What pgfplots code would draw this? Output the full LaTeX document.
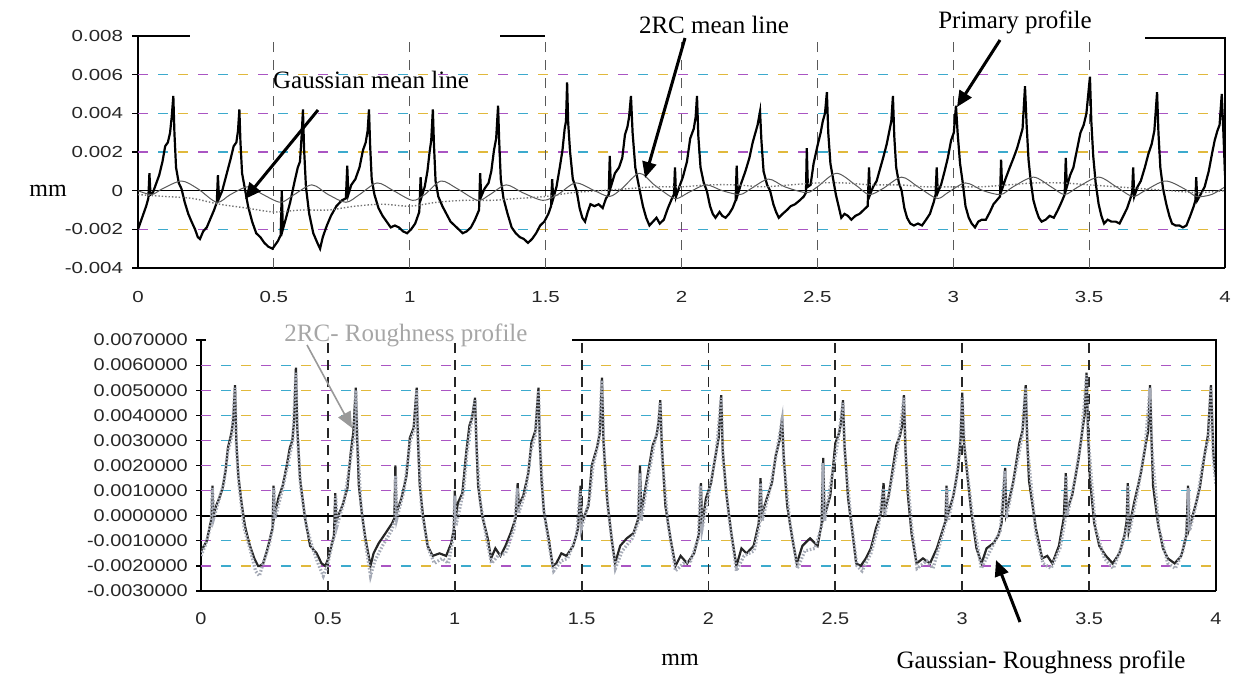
\documentclass[border=0pt]{standalone}
\usepackage{fontspec}
\setmainfont{Liberation Serif}
\newfontfamily\arialfont{Liberation Sans}
\usepackage{pgfplots}
\pgfplotsset{compat=1.18}
\usetikzlibrary{arrows.meta}

\definecolor{gridP}{RGB}{170,85,195}
\definecolor{gridC}{RGB}{60,170,205}
\definecolor{gridY}{RGB}{225,185,60}
\definecolor{rcgray}{RGB}{165,170,182}

\tikzset{
  hgridP/.style={gridP, line width=0.6pt, dash pattern=on 5pt off 25pt},
  hgridC/.style={gridC, line width=0.6pt, dash pattern=on 5pt off 25pt, dash phase=20pt},
  hgridY/.style={gridY, line width=0.6pt, dash pattern=on 5pt off 25pt, dash phase=10pt},
  callout/.style={line width=1.5pt, -{Triangle[length=8pt,width=7pt]}},
}

% coloured dashed horizontal grid lines, as in the scanned original
\newcommand{\hgrid}[1]{\pgfplotsinvokeforeach{#1}{
  \draw[hgridP] (axis cs:0,##1) -- (axis cs:4,##1);
  \draw[hgridC] (axis cs:0,##1) -- (axis cs:4,##1);
  \draw[hgridY] (axis cs:0,##1) -- (axis cs:4,##1);}}

\begin{document}
\begin{tikzpicture}

%% ---------------- primary profile with mean lines ----------------
\begin{axis}[
  at={(69pt,-134pt)}, anchor=south west,
  scale only axis, width=543.5pt, height=116pt,
  xmin=0, xmax=4, ymin=-0.004, ymax=0.008,
  axis x line*=bottom, axis y line*=left,
  axis line style={line width=0.8pt, black},
  xtick={0,0.5,1,1.5,2,2.5,3,3.5,4},
  xticklabels={0,0.5,1,1.5,2,2.5,3,3.5,4},
  ytick={-0.004,-0.002,0,0.002,0.004,0.006,0.008},
  yticklabels={-0.004,-0.002,0,0.002,0.004,0.006,0.008},
  scaled ticks=false,
  tick align=outside, major tick length=3pt,
  x tick style={draw=none},
  y tick style={black, line width=0.6pt},
  tick label style={font=\arialfont\fontsize{8}{9}\selectfont, black!85, xscale=1.28},
  xticklabel style={yshift=-5pt},
]
\hgrid{0.006,0.004,0.002,-0.002}
\pgfplotsinvokeforeach{0.5,1,1.5,2,2.5,3,3.5}{
  \draw[gray!70!black, line width=0.6pt, dash pattern=on 5pt off 4pt] (axis cs:#1,-0.004) -- (axis cs:#1,0.008);}
\draw[black, line width=0.8pt] (axis cs:0,0) -- (axis cs:4,0);

% primary profile
\addplot[black, line width=1.1pt] coordinates {
(0.000,-0.0020) (0.010,-0.0016) (0.020,-0.0012) (0.030,-0.0008) (0.038,-0.0004) (0.042,0.0009) (0.046,-0.0002)
(0.055,-0.0001) (0.065,0.0003) (0.078,0.0008) (0.090,0.0015) (0.100,0.0023) (0.110,0.0025) (0.118,0.0030)
(0.124,0.0038) (0.130,0.0049)
(0.134,0.0030) (0.140,0.0012) (0.150,0.0004) (0.160,0.0001) (0.172,-0.0006) (0.185,-0.0012) (0.197,-0.0016)
(0.210,-0.0020) (0.220,-0.0024) (0.228,-0.0025) (0.240,-0.0021) (0.253,-0.0019) (0.265,-0.0015) (0.280,-0.0010)
(0.290,-0.0006) (0.294,0.0008) (0.298,-0.0004) (0.310,0.0000) (0.325,0.0008) (0.340,0.0016) (0.352,0.0023)
(0.362,0.0025) (0.368,0.0031) (0.373,0.0042)
(0.377,0.0025) (0.383,0.0009) (0.392,0.0002) (0.405,-0.0008) (0.420,-0.0016) (0.435,-0.0022) (0.450,-0.0024)
(0.465,-0.0027) (0.480,-0.0029) (0.495,-0.0030) (0.505,-0.0028) (0.515,-0.0026) (0.525,-0.0023) (0.529,0.0000)
(0.533,-0.0020) (0.545,-0.0014) (0.560,-0.0006) (0.575,0.0004) (0.588,0.0012) (0.596,0.0015) (0.602,0.0028)
(0.607,0.0042)
(0.611,0.0022) (0.618,0.0002) (0.630,-0.0012) (0.645,-0.0022) (0.660,-0.0027) (0.670,-0.0030) (0.680,-0.0024)
(0.695,-0.0018) (0.710,-0.0013) (0.730,-0.0008) (0.750,-0.0005) (0.765,-0.0004) (0.770,0.0013) (0.774,-0.0002)
(0.785,0.0003) (0.800,0.0006) (0.815,0.0012) (0.828,0.0021) (0.838,0.0025) (0.845,0.0031) (0.850,0.0042)
(0.854,0.0024) (0.860,0.0006) (0.870,-0.0002) (0.885,-0.0009) (0.900,-0.0013) (0.915,-0.0016) (0.930,-0.0019)
(0.945,-0.0018) (0.960,-0.0019) (0.975,-0.0021) (0.990,-0.0022) (1.005,-0.0020) (1.020,-0.0017) (1.035,-0.0011)
(1.040,0.0007) (1.044,-0.0003) (1.055,0.0002) (1.065,0.0010) (1.073,0.0020) (1.079,0.0026) (1.085,0.0042)
(1.089,0.0024) (1.095,0.0005) (1.105,-0.0003) (1.120,-0.0008) (1.135,-0.0012) (1.150,-0.0016) (1.165,-0.0018)
(1.180,-0.0020) (1.195,-0.0022) (1.210,-0.0021) (1.225,-0.0019) (1.240,-0.0015) (1.255,-0.0010) (1.259,0.0009)
(1.263,-0.0003) (1.275,0.0001) (1.290,0.0004) (1.300,0.0010) (1.310,0.0021) (1.318,0.0027) (1.325,0.0044)
(1.329,0.0026) (1.335,0.0006) (1.345,-0.0004) (1.360,-0.0012) (1.375,-0.0019) (1.390,-0.0022) (1.405,-0.0024)
(1.420,-0.0025) (1.435,-0.0027) (1.450,-0.0025) (1.465,-0.0022) (1.480,-0.0018) (1.495,-0.0016) (1.510,-0.0012)
(1.520,-0.0008) (1.524,0.0006) (1.528,-0.0004) (1.540,0.0002) (1.552,0.0012) (1.562,0.0021) (1.570,0.0032)
(1.575,0.0036) (1.579,0.0056)
(1.583,0.0035) (1.590,0.0020) (1.600,0.0006) (1.614,0.0000) (1.625,-0.0009) (1.635,-0.0014) (1.645,-0.0016)
(1.655,-0.0011) (1.665,-0.0007) (1.680,-0.0008) (1.695,-0.0007) (1.710,-0.0009) (1.722,-0.0004) (1.732,-0.0002)
(1.736,0.0018) (1.740,0.0002) (1.755,0.0009) (1.770,0.0012) (1.782,0.0017) (1.792,0.0029) (1.801,0.0033)
(1.807,0.0038) (1.814,0.0049)
(1.820,0.0030) (1.830,0.0012) (1.845,0.0001) (1.858,-0.0008) (1.870,-0.0014) (1.882,-0.0018) (1.895,-0.0016)
(1.908,-0.0014) (1.920,-0.0017) (1.935,-0.0015) (1.950,-0.0009) (1.965,-0.0004) (1.972,-0.0002) (1.976,0.0012)
(1.980,-0.0003) (1.992,0.0002) (2.005,0.0007) (2.020,0.0015) (2.032,0.0027) (2.045,0.0032) (2.052,0.0038)
(2.057,0.0049)
(2.062,0.0028) (2.070,0.0012) (2.082,0.0004) (2.093,0.0000) (2.105,-0.0008) (2.115,-0.0012) (2.125,-0.0014)
(2.140,-0.0011) (2.150,-0.0013) (2.162,-0.0014) (2.175,-0.0012) (2.188,-0.0009) (2.199,-0.0005) (2.203,0.0013)
(2.207,-0.0002) (2.220,0.0004) (2.235,0.0010) (2.250,0.0017) (2.262,0.0025) (2.272,0.0030) (2.280,0.0034)
(2.289,0.0041)
(2.294,0.0026) (2.302,0.0010) (2.315,0.0003) (2.326,0.0000) (2.338,-0.0007) (2.348,-0.0011) (2.358,-0.0014)
(2.372,-0.0012) (2.388,-0.0010) (2.402,-0.0008) (2.418,-0.0007) (2.435,-0.0005) (2.450,-0.0003) (2.458,-0.0001)
(2.461,0.0022) (2.465,0.0002) (2.475,0.0003) (2.486,0.0014) (2.500,0.0023) (2.512,0.0030) (2.520,0.0036)
(2.528,0.0040) (2.535,0.0051)
(2.540,0.0030) (2.548,0.0014) (2.558,0.0006) (2.568,-0.0002) (2.578,-0.0008) (2.588,-0.0014) (2.600,-0.0012)
(2.612,-0.0013) (2.625,-0.0015) (2.640,-0.0013) (2.655,-0.0012) (2.670,-0.0010) (2.685,-0.0008) (2.690,0.0012)
(2.694,-0.0002) (2.705,0.0002) (2.718,0.0005) (2.730,0.0011) (2.742,0.0017) (2.755,0.0024) (2.765,0.0031)
(2.772,0.0036) (2.778,0.0049)
(2.783,0.0028) (2.790,0.0012) (2.800,0.0004) (2.810,0.0000) (2.820,-0.0009) (2.830,-0.0014) (2.842,-0.0017)
(2.855,-0.0018) (2.870,-0.0017) (2.885,-0.0018) (2.900,-0.0015) (2.914,-0.0012) (2.928,-0.0006) (2.935,-0.0002)
(2.939,0.0012) (2.943,-0.0001) (2.955,0.0003) (2.968,0.0010) (2.980,0.0017) (2.992,0.0026) (3.002,0.0030)
(3.010,0.0044)
(3.016,0.0030) (3.025,0.0014) (3.035,0.0004) (3.045,-0.0008) (3.057,-0.0014) (3.068,-0.0017) (3.080,-0.0019)
(3.092,-0.0016) (3.105,-0.0015) (3.120,-0.0015) (3.135,-0.0011) (3.148,-0.0007) (3.160,-0.0005) (3.172,-0.0003)
(3.176,0.0016) (3.180,0.0001) (3.192,0.0006) (3.208,0.0012) (3.222,0.0017) (3.235,0.0022) (3.245,0.0027)
(3.255,0.0032) (3.264,0.0054)
(3.270,0.0034) (3.277,0.0016) (3.285,0.0005) (3.295,-0.0005) (3.305,-0.0010) (3.315,-0.0014) (3.325,-0.0016)
(3.340,-0.0015) (3.355,-0.0013) (3.370,-0.0014) (3.385,-0.0010) (3.398,-0.0006) (3.410,-0.0002) (3.414,0.0017)
(3.418,0.0002) (3.430,0.0008) (3.442,0.0012) (3.455,0.0021) (3.468,0.0030) (3.480,0.0034) (3.490,0.0040)
(3.503,0.0059)
(3.508,0.0036) (3.515,0.0018) (3.524,0.0004) (3.535,-0.0007) (3.545,-0.0013) (3.555,-0.0017) (3.568,-0.0015)
(3.582,-0.0016) (3.598,-0.0016) (3.612,-0.0017) (3.626,-0.0013) (3.640,-0.0009) (3.652,-0.0004) (3.658,-0.0001)
(3.662,0.0012) (3.666,-0.0003) (3.678,0.0002) (3.690,0.0005) (3.705,0.0012) (3.718,0.0019) (3.730,0.0024)
(3.740,0.0031) (3.750,0.0051)
(3.755,0.0030) (3.762,0.0012) (3.772,0.0001) (3.784,-0.0007) (3.795,-0.0013) (3.805,-0.0017) (3.818,-0.0018)
(3.832,-0.0018) (3.845,-0.0019) (3.858,-0.0018) (3.872,-0.0013) (3.885,-0.0008) (3.891,-0.0005) (3.894,0.0007)
(3.898,-0.0005) (3.910,-0.0002) (3.925,0.0002) (3.940,0.0010) (3.952,0.0019) (3.962,0.0026) (3.972,0.0031)
(3.980,0.0034) (3.988,0.0050) (3.994,0.0030) (4.000,0.0008)
};

% 2RC mean line
\addplot[black!65, line width=0.5pt, smooth] coordinates {
(0.000,0.0000) (0.050,-0.0002) (0.090,0.0001) (0.160,0.0005) (0.220,0.0001) (0.290,-0.0006) (0.340,-0.0002)
(0.405,0.0002) (0.460,-0.0002) (0.525,-0.0006) (0.575,-0.0002) (0.640,0.0003) (0.700,-0.0002) (0.765,-0.0006)
(0.815,-0.0002) (0.880,0.0004) (0.940,0.0000) (1.010,-0.0005) (1.055,-0.0002) (1.115,0.0005) (1.175,0.0001)
(1.250,-0.0005) (1.295,-0.0002) (1.355,0.0003) (1.415,-0.0001) (1.490,-0.0005) (1.545,-0.0002) (1.610,0.0004)
(1.680,0.0000) (1.735,-0.0003) (1.780,0.0001) (1.845,0.0009) (1.900,0.0003) (1.975,-0.0004) (2.025,-0.0001)
(2.090,0.0003) (2.150,0.0000) (2.215,-0.0002) (2.255,0.0001) (2.320,0.0006) (2.380,0.0002) (2.460,-0.0001)
(2.500,0.0002) (2.570,0.0009) (2.640,0.0003) (2.690,-0.0002) (2.740,0.0001) (2.810,0.0007) (2.870,0.0002)
(2.940,-0.0004) (2.980,-0.0001) (3.045,0.0004) (3.110,0.0000) (3.175,-0.0002) (3.220,0.0002) (3.295,0.0007)
(3.360,0.0002) (3.410,-0.0002) (3.460,0.0002) (3.535,0.0007) (3.600,0.0002) (3.660,-0.0003) (3.705,0.0000)
(3.780,0.0005) (3.850,0.0001) (3.895,-0.0003) (3.950,-0.0002) (4.000,0.0002)
};

% Gaussian mean line
\addplot[black!55, line width=0.7pt, densely dotted, smooth] coordinates {
(0.0,-0.0002) (0.1,-0.0003) (0.2,-0.0004) (0.3,-0.0007) (0.4,-0.0009) (0.5,-0.0011) (0.6,-0.0010)
(0.7,-0.0010) (0.8,-0.0008) (0.9,-0.0007) (1.0,-0.0008) (1.1,-0.0006) (1.2,-0.0005) (1.3,-0.0005)
(1.4,-0.0004) (1.5,-0.0003) (1.6,-0.0001) (1.7,0.0000) (1.8,0.0001) (1.9,0.0002) (2.0,0.0002)
(2.1,0.0003) (2.2,0.0003) (2.3,0.0002) (2.4,0.0003) (2.5,0.0004) (2.6,0.0004) (2.7,0.0003)
(2.8,0.0003) (2.9,0.0002) (3.0,0.0002) (3.1,0.0002) (3.2,0.0003) (3.3,0.0004) (3.4,0.0004)
(3.5,0.0003) (3.6,0.0002) (3.7,0.0001) (3.8,0.0000) (3.9,-0.0001) (4.0,0.0000)
};
\end{axis}

%% ---------------- roughness profiles ----------------
\begin{axis}[
  at={(100.5pt,-295.5pt)}, anchor=south west,
  scale only axis, width=507.5pt, height=125.5pt,
  xmin=0, xmax=4, ymin=-0.003, ymax=0.007,
  axis x line*=bottom, axis y line*=left,
  axis line style={line width=0.8pt, black},
  xtick={0,0.5,1,1.5,2,2.5,3,3.5,4},
  xticklabels={0,0.5,1,1.5,2,2.5,3,3.5,4},
  ytick={-0.003,-0.002,-0.001,0,0.001,0.002,0.003,0.004,0.005,0.006,0.007},
  yticklabels={-0.0030000,-0.0020000,-0.0010000,0.0000000,0.0010000,0.0020000,0.0030000,0.0040000,0.0050000,0.0060000,0.0070000},
  scaled ticks=false,
  tick align=center, major tick length=5pt,
  x tick style={draw=none},
  y tick style={black, line width=0.6pt},
  tick label style={font=\arialfont\fontsize{8.5}{9}\selectfont, black!85, xscale=1.17},
  xticklabel style={yshift=-5pt},
]
\hgrid{0.006,0.005,0.004,0.003,0.002,0.001,-0.001,-0.002}
\pgfplotsinvokeforeach{0.5,1,1.5,2,2.5,3,3.5}{
  \draw[black!85, line width=0.9pt, dash pattern=on 5pt off 3.5pt] (axis cs:#1,-0.003) -- (axis cs:#1,0.007);}
\draw[black, line width=0.9pt] (axis cs:0,0) -- (axis cs:4,0);

% Gaussian roughness profile
\addplot[black!85, line width=1.1pt] coordinates {
(0.000,-0.0014) (0.012,-0.0012) (0.023,-0.0010) (0.035,-0.0004) (0.042,-0.0001) (0.045,0.0012) (0.049,0.0000)
(0.060,0.0004) (0.072,0.0007) (0.085,0.0011) (0.097,0.0018) (0.106,0.0027) (0.120,0.0033) (0.127,0.0038)
(0.134,0.0052)
(0.139,0.0030) (0.147,0.0016) (0.160,0.0005) (0.173,-0.0004) (0.185,-0.0009) (0.193,-0.0012) (0.210,-0.0017)
(0.225,-0.0020) (0.232,-0.0020) (0.245,-0.0019) (0.260,-0.0014) (0.272,-0.0009) (0.282,-0.0005) (0.286,0.0012)
(0.290,0.0000) (0.305,0.0007) (0.322,0.0012) (0.338,0.0020) (0.350,0.0027) (0.360,0.0030) (0.367,0.0038)
(0.374,0.0059)
(0.379,0.0036) (0.390,0.0015) (0.410,-0.0001) (0.430,-0.0012) (0.456,-0.0015) (0.475,-0.0019) (0.490,-0.0020)
(0.502,-0.0017) (0.516,-0.0011) (0.524,-0.0008) (0.529,0.0009) (0.533,-0.0002) (0.557,0.0004) (0.577,0.0011)
(0.590,0.0025) (0.600,0.0033) (0.610,0.0051)
(0.615,0.0032) (0.622,0.0012) (0.635,0.0000) (0.648,-0.0009) (0.668,-0.0020) (0.680,-0.0015) (0.700,-0.0011)
(0.727,-0.0007) (0.753,-0.0003) (0.762,-0.0001) (0.766,0.0020) (0.770,0.0001) (0.790,0.0007) (0.810,0.0016)
(0.823,0.0031) (0.838,0.0035) (0.850,0.0051)
(0.855,0.0030) (0.862,0.0012) (0.875,0.0000) (0.893,-0.0012) (0.913,-0.0016) (0.940,-0.0015) (0.966,-0.0016)
(0.986,-0.0011) (0.997,-0.0005) (1.000,0.0010) (1.004,-0.0001) (1.012,0.0005) (1.030,0.0009) (1.045,0.0025)
(1.058,0.0036) (1.068,0.0039) (1.080,0.0047)
(1.085,0.0030) (1.092,0.0012) (1.108,0.0000) (1.130,-0.0009) (1.143,-0.0017) (1.160,-0.0013) (1.180,-0.0016)
(1.200,-0.0012) (1.220,-0.0007) (1.240,-0.0001) (1.248,0.0013) (1.252,0.0004) (1.270,0.0008) (1.290,0.0017)
(1.302,0.0029) (1.318,0.0034) (1.330,0.0051)
(1.335,0.0030) (1.342,0.0014) (1.352,0.0001) (1.370,-0.0009) (1.386,-0.0020) (1.400,-0.0019) (1.420,-0.0015)
(1.440,-0.0016) (1.467,-0.0012) (1.486,-0.0005) (1.496,0.0012) (1.500,-0.0003) (1.527,0.0004) (1.540,0.0020)
(1.560,0.0027) (1.572,0.0033) (1.580,0.0055)
(1.586,0.0030) (1.600,0.0007) (1.618,-0.0009) (1.632,-0.0019) (1.652,-0.0012) (1.678,-0.0009) (1.704,-0.0007)
(1.724,-0.0001) (1.730,0.0020) (1.735,0.0001) (1.753,0.0012) (1.780,0.0028) (1.795,0.0032) (1.803,0.0037)
(1.810,0.0046)
(1.816,0.0028) (1.830,0.0004) (1.850,-0.0009) (1.870,-0.0020) (1.890,-0.0016) (1.916,-0.0019) (1.943,-0.0015)
(1.963,-0.0007) (1.970,0.0013) (1.975,-0.0004) (1.990,0.0007) (2.010,0.0013) (2.026,0.0023) (2.040,0.0031)
(2.050,0.0048)
(2.056,0.0026) (2.070,0.0009) (2.090,-0.0007) (2.110,-0.0020) (2.130,-0.0013) (2.150,-0.0015) (2.178,-0.0012)
(2.198,-0.0003) (2.205,0.0015) (2.210,0.0000) (2.230,0.0007) (2.250,0.0013) (2.265,0.0024) (2.280,0.0030)
(2.290,0.0039)
(2.296,0.0024) (2.310,0.0004) (2.330,-0.0009) (2.348,-0.0019) (2.370,-0.0012) (2.400,-0.0009) (2.430,-0.0012)
(2.446,-0.0003) (2.452,0.0023) (2.457,0.0000) (2.480,0.0008) (2.500,0.0029) (2.515,0.0033) (2.522,0.0037)
(2.530,0.0046)
(2.536,0.0028) (2.550,0.0007) (2.570,-0.0009) (2.582,-0.0019) (2.600,-0.0020) (2.620,-0.0017) (2.640,-0.0013)
(2.660,-0.0005) (2.680,0.0001) (2.690,0.0013) (2.694,0.0002) (2.710,0.0008) (2.740,0.0028) (2.755,0.0032)
(2.763,0.0036) (2.770,0.0048)
(2.776,0.0027) (2.785,0.0009) (2.800,-0.0007) (2.820,-0.0019) (2.845,-0.0017) (2.873,-0.0019) (2.900,-0.0013)
(2.925,-0.0005) (2.934,-0.0002) (2.938,0.0012) (2.942,0.0000) (2.965,0.0008) (2.984,0.0019) (2.993,0.0030)
(3.000,0.0049)
(3.006,0.0030) (3.017,0.0019) (3.036,0.0001) (3.056,-0.0013) (3.076,-0.0019) (3.096,-0.0013) (3.122,-0.0011)
(3.142,-0.0008) (3.155,-0.0003) (3.169,0.0019) (3.173,0.0001) (3.200,0.0013) (3.225,0.0029) (3.238,0.0034)
(3.250,0.0052)
(3.256,0.0030) (3.263,0.0014) (3.290,-0.0005) (3.315,-0.0017) (3.335,-0.0016) (3.355,-0.0019) (3.381,-0.0012)
(3.400,-0.0001) (3.408,0.0017) (3.412,0.0002) (3.433,0.0008) (3.459,0.0023) (3.472,0.0033) (3.482,0.0040)
(3.490,0.0057)
(3.496,0.0032) (3.503,0.0015) (3.520,-0.0003) (3.540,-0.0012) (3.566,-0.0016) (3.593,-0.0019) (3.619,-0.0015)
(3.639,-0.0008) (3.648,-0.0002) (3.652,0.0013) (3.656,-0.0006) (3.677,0.0005) (3.704,0.0017) (3.724,0.0029)
(3.733,0.0034) (3.740,0.0052)
(3.746,0.0030) (3.752,0.0012) (3.771,-0.0003) (3.791,-0.0013) (3.810,-0.0017) (3.837,-0.0019) (3.863,-0.0016)
(3.883,-0.0008) (3.890,0.0012) (3.894,-0.0005) (3.916,0.0003) (3.936,0.0011) (3.956,0.0025) (3.968,0.0032)
(3.980,0.0052) (3.990,0.0024) (4.000,0.0015)
};

% 2RC roughness profile
\addplot[rcgray, line width=1.6pt, dash pattern=on 0.8pt off 0.9pt] coordinates {
(0.000,-0.0016) (0.020,-0.0011) (0.040,-0.0003) (0.045,0.0011) (0.050,-0.0001) (0.070,0.0006) (0.090,0.0013)
(0.105,0.0025) (0.122,0.0032) (0.134,0.0051) (0.140,0.0026) (0.150,0.0012) (0.170,-0.0005) (0.195,-0.0014)
(0.215,-0.0022) (0.230,-0.0024) (0.248,-0.0018) (0.270,-0.0011) (0.284,-0.0004) (0.287,0.0011) (0.292,-0.0001)
(0.320,0.0010) (0.345,0.0022) (0.362,0.0030) (0.374,0.0057) (0.380,0.0032) (0.392,0.0012) (0.415,-0.0004)
(0.440,-0.0013) (0.465,-0.0020) (0.482,-0.0024) (0.498,-0.0020) (0.515,-0.0012) (0.528,-0.0007) (0.531,0.0008)
(0.536,-0.0004) (0.565,0.0006) (0.590,0.0023) (0.603,0.0031) (0.610,0.0050) (0.616,0.0030) (0.630,0.0005)
(0.650,-0.0012) (0.668,-0.0024) (0.685,-0.0018) (0.715,-0.0012) (0.750,-0.0006) (0.764,-0.0002) (0.767,0.0016)
(0.772,-0.0001) (0.800,0.0010) (0.825,0.0030) (0.840,0.0034) (0.850,0.0050) (0.856,0.0029) (0.870,0.0002)
(0.895,-0.0013) (0.920,-0.0019) (0.950,-0.0017) (0.975,-0.0019) (0.995,-0.0008) (1.000,0.0008) (1.005,-0.0004)
(1.035,0.0010) (1.048,0.0025) (1.065,0.0037) (1.080,0.0046) (1.086,0.0027) (1.100,0.0006) (1.125,-0.0009)
(1.145,-0.0019) (1.170,-0.0016) (1.200,-0.0015) (1.235,-0.0005) (1.247,0.0011) (1.252,0.0001) (1.280,0.0010)
(1.300,0.0026) (1.318,0.0032) (1.330,0.0050) (1.336,0.0028) (1.350,0.0003) (1.372,-0.0012) (1.390,-0.0022)
(1.420,-0.0018) (1.445,-0.0017) (1.480,-0.0008) (1.494,0.0010) (1.499,-0.0005) (1.530,0.0006) (1.545,0.0020)
(1.568,0.0030) (1.580,0.0054) (1.587,0.0028) (1.605,0.0002) (1.633,-0.0021) (1.660,-0.0014) (1.700,-0.0009)
(1.722,-0.0003) (1.729,0.0017) (1.735,-0.0002) (1.760,0.0014) (1.785,0.0028) (1.800,0.0034) (1.810,0.0045)
(1.817,0.0024) (1.840,-0.0003) (1.870,-0.0022) (1.900,-0.0019) (1.930,-0.0018) (1.960,-0.0009) (1.968,0.0012)
(1.975,-0.0005) (2.005,0.0011) (2.030,0.0025) (2.050,0.0047) (2.057,0.0023) (2.080,0.0000) (2.110,-0.0022)
(2.140,-0.0016) (2.180,-0.0014) (2.200,-0.0004) (2.205,0.0013) (2.212,-0.0002) (2.245,0.0012) (2.268,0.0025)
(2.290,0.0038) (2.297,0.0021) (2.320,-0.0002) (2.350,-0.0021) (2.380,-0.0014) (2.420,-0.0013) (2.446,-0.0004)
(2.451,0.0021) (2.458,-0.0002) (2.490,0.0018) (2.512,0.0031) (2.530,0.0045) (2.537,0.0025) (2.560,0.0000)
(2.585,-0.0020) (2.605,-0.0022) (2.640,-0.0015) (2.670,-0.0004) (2.689,0.0011) (2.695,0.0000) (2.725,0.0016)
(2.750,0.0030) (2.770,0.0047) (2.777,0.0024) (2.800,-0.0004) (2.822,-0.0021) (2.860,-0.0018) (2.885,-0.0021)
(2.915,-0.0010) (2.936,-0.0002) (2.939,0.0011) (2.945,-0.0002) (2.975,0.0013) (2.992,0.0028) (3.000,0.0047)
(3.008,0.0028) (3.040,0.0000) (3.075,-0.0021) (3.110,-0.0014) (3.150,-0.0006) (3.168,0.0018) (3.174,-0.0001)
(3.210,0.0018) (3.235,0.0031) (3.250,0.0051) (3.257,0.0027) (3.290,-0.0007) (3.318,-0.0019) (3.350,-0.0021)
(3.385,-0.0013) (3.405,-0.0002) (3.409,0.0016) (3.414,0.0000) (3.445,0.0015) (3.470,0.0031) (3.490,0.0056)
(3.497,0.0030) (3.525,-0.0005) (3.560,-0.0017) (3.595,-0.0021) (3.630,-0.0012) (3.650,-0.0004) (3.653,0.0012)
(3.658,-0.0007) (3.690,0.0009) (3.720,0.0027) (3.740,0.0051) (3.747,0.0027) (3.775,-0.0005) (3.810,-0.0019)
(3.840,-0.0021) (3.870,-0.0014) (3.888,-0.0004) (3.891,0.0011) (3.896,-0.0006) (3.925,0.0006) (3.950,0.0022)
(3.970,0.0031) (3.980,0.0051) (3.990,0.0022) (4.000,0.0012)
};
\end{axis}

%% ---------------- borders, labels and call-outs (pixel frame) ----------------
\begin{scope}[x=0.5pt, y=-0.5pt]
  % broken top border and right border of the upper chart
  \draw[line width=0.8pt] (138,36) -- (190,36) (500,36) -- (545,36) (1145,38) -- (1225,38) -- (1225,268);
  % top and right border of the lower chart
  \draw[line width=0.8pt] (572,340) -- (1216,340) -- (1216,591);

  \node[font=\fontsize{12}{14}\selectfont] at (48,191) {mm};
  \node[font=\fontsize{12}{14}\selectfont] at (680,660) {mm};

  \node[font=\fontsize{12.5}{14}\selectfont] at (371,80) {Gaussian mean line};
  \draw[callout] (318,110) -- (245,199);
  \node[font=\fontsize{12.5}{14}\selectfont] at (714,25) {2RC mean line};
  \draw[callout] (685,38) -- (645,178);
  \node[font=\fontsize{12.5}{14}\selectfont] at (1015,22) {Primary profile};
  \draw[callout] (1000,40) -- (957,107);

  \node[font=\fontsize{12.5}{14}\selectfont, black!35] at (406,335) {2RC- Roughness profile};
  \draw[black!40, line width=0.8pt, -{Triangle[length=8pt,width=7pt]}] (307,345) -- (352,428);
  \node[font=\fontsize{12.5}{14}\selectfont] at (1041,662) {Gaussian- Roughness profile};
  \draw[callout] (1020,622) -- (996,560);

  \pgfresetboundingbox
  \path[use as bounding box] (0,0) rectangle (1235,677);
\end{scope}
\end{tikzpicture}
\end{document}
